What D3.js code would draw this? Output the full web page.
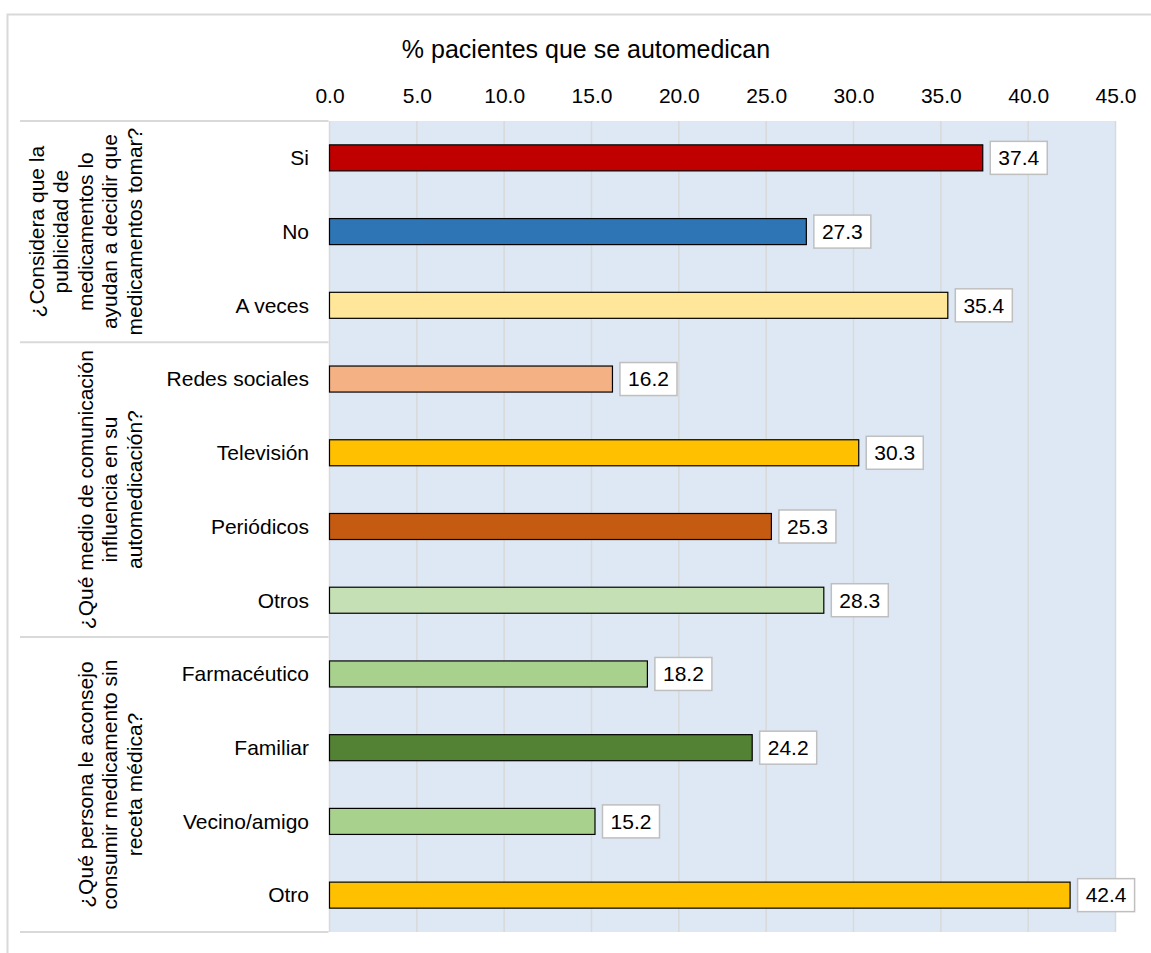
<!DOCTYPE html>
<html>
  <head>
    <title>Automedicación</title>
    <script src="https://d3js.org/d3.v7.min.js"></script>
    <style>
      body { margin: 0; background: #fff; }
      text { font-family: "Liberation Sans", Arial, sans-serif; fill: #000; }
    </style>
  </head>
  <body>
    <script>
      // data
      let categories = ['Si', 'No', 'A veces', 'Redes sociales', 'Televisión', 'Periódicos', 'Otros',
                        'Farmacéutico', 'Familiar', 'Vecino/amigo', 'Otro']
      let values = [37.4, 27.3, 35.4, 16.2, 30.3, 25.3, 28.3, 18.2, 24.2, 15.2, 42.4]
      let colors = ['#c00000', '#2e75b6', '#ffe699', '#f4b183', '#ffc000', '#c55a11', '#c5e0b4',
                    '#a9d18e', '#548235', '#a9d18e', '#ffc000']
      let groupLines = [
        ['¿Considera que la', 'publicidad de', 'medicamentos lo', 'ayudan a decidir que', 'medicamentos tomar?'],
        ['¿Qué medio de comunicación', 'influencia en su', 'automedicación?'],
        ['¿Qué persona le aconsejo', 'consumir medicamento sin', 'receta médica?']
      ]
      let groupSizes = [3, 4, 4]
      let tickValues = [0, 5, 10, 15, 20, 25, 30, 35, 40, 45]
      let axisTitle = '% pacientes que se automedican'

      let width = 1151, height = 953
      let plotLeft = 329.5, plotRight = 1115.5, plotTop = 121, plotBottom = 932
      let tableLeft = 20

      let svg = d3.select('body').append('svg')
                  .attr('width', width)
                  .attr('height', height)

      // outer frame
      svg.append('rect')
         .attr('x', 7.5).attr('y', 14.5)
         .attr('width', 1160).attr('height', 960)
         .style('fill', '#fff').style('stroke', '#d9d9d9').style('stroke-width', 2)

      let xScale = d3.scaleLinear().domain([0, 45]).range([plotLeft, plotRight])
      let yScale = d3.scaleBand()
                     .domain(d3.range(categories.length))
                     .range([plotTop, plotBottom])
                     .paddingInner(0.647).paddingOuter(0.3235)

      // plot background
      svg.append('rect')
         .attr('x', plotLeft).attr('y', plotTop)
         .attr('width', plotRight - plotLeft).attr('height', plotBottom - plotTop)
         .style('fill', '#dde8f4')

      // gridlines
      svg.append('g').selectAll('line').data(tickValues)
         .enter().append('line')
         .attr('x1', d => xScale(d)).attr('x2', d => xScale(d))
         .attr('y1', plotTop).attr('y2', plotBottom)
         .style('stroke', '#d9d9d9').style('stroke-width', 1.5)

      // top axis
      let xAxis = d3.axisTop(xScale).tickValues(tickValues).tickFormat(d3.format('.1f')).tickSize(0).tickPadding(0)
      let axisG = svg.append('g').attr('transform', 'translate(0, 103)').call(xAxis)
      axisG.select('.domain').remove()
      axisG.selectAll('text').style('font-size', '21px')
           .style('font-family', '"Liberation Sans", Arial, sans-serif').attr('dy', 0).attr('fill', '#000')

      svg.append('text')
         .attr('x', 586).attr('y', 58)
         .attr('text-anchor', 'middle')
         .style('font-size', '25px')
         .text(axisTitle)

      // category table lines
      let step = yScale.step()
      let bounds = [0]
      groupSizes.forEach(s => bounds.push(bounds[bounds.length - 1] + s))
      svg.append('g').selectAll('line').data(bounds)
         .enter().append('line')
         .attr('x1', tableLeft).attr('x2', plotLeft - 1)
         .attr('y1', d => plotTop + d * step).attr('y2', d => plotTop + d * step)
         .style('stroke', '#d9d9d9').style('stroke-width', 2)

      // group labels (rotated)
      groupLines.forEach((lines, g) => {
          let cy = plotTop + (bounds[g] + bounds[g + 1]) / 2 * step
          let lastX = 134.5, lineGap = 24.5
          let t = svg.append('text')
                     .attr('transform', `rotate(-90)`)
                     .attr('text-anchor', 'middle')
                     .style('font-size', '21px')
          lines.forEach((ln, i) => {
              t.append('tspan')
               .attr('x', -cy)
               .attr('y', lastX - (lines.length - 1 - i) * lineGap)
               .attr('dy', '0.35em')
               .text(ln)
          })
      })

      // category labels
      svg.append('g').selectAll('text').data(categories)
         .enter().append('text')
         .attr('x', 309)
         .attr('y', (d, i) => yScale(i) + yScale.bandwidth() / 2)
         .attr('dy', '0.35em')
         .attr('text-anchor', 'end')
         .style('font-size', '21px')
         .text(d => d)

      // bars
      svg.append('g').selectAll('rect').data(values)
         .enter().append('rect')
         .attr('x', xScale(0))
         .attr('y', (d, i) => yScale(i))
         .attr('width', d => xScale(d) - xScale(0))
         .attr('height', yScale.bandwidth())
         .style('fill', (d, i) => colors[i])
         .style('stroke', '#000').style('stroke-width', 1.2)

      // value labels
      let labels = svg.append('g').selectAll('g').data(values)
                      .enter().append('g')
                      .attr('transform', (d, i) => `translate(${xScale(d) + 7.5}, ${yScale(i) + yScale.bandwidth() / 2})`)
      labels.append('rect')
            .attr('x', 0).attr('y', -16.5)
            .attr('width', 57).attr('height', 33)
            .style('fill', '#fff').style('stroke', '#bfbfbf').style('stroke-width', 1.5)
      labels.append('text')
            .attr('x', 28.5).attr('dy', '0.35em')
            .attr('text-anchor', 'middle')
            .style('font-size', '21px')
            .text(d => d.toFixed(1))
    </script>
  </body>
</html>
